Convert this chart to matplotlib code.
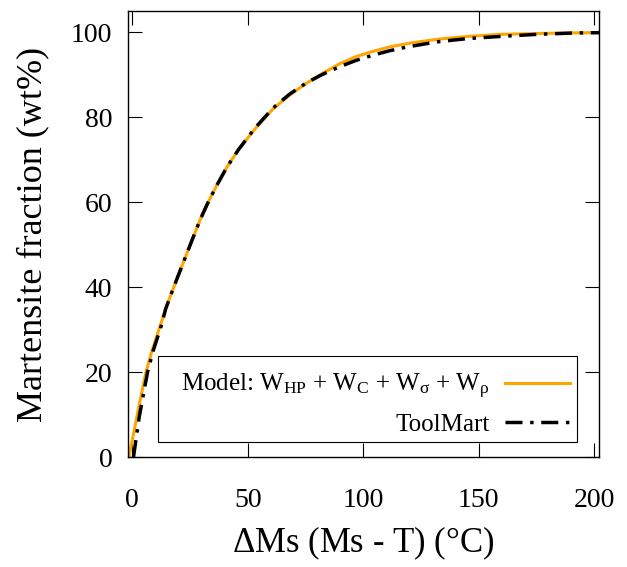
import numpy as np
from matplotlib import pyplot as plt
from matplotlib.patches import Rectangle

plt.rcParams['font.family'] = ['Liberation Serif', 'DejaVu Serif']
plt.rcParams['mathtext.fontset'] = 'custom'
plt.rcParams['mathtext.rm'] = 'Liberation Serif'
plt.rcParams['mathtext.it'] = 'Liberation Serif:italic'

# values
model_x = [-1.5, 0, 2.5, 5.9, 8.5, 11.7, 14.5, 18, 24, 29.3, 33, 36.5, 41, 46, 53, 61, 68, 75.4, 82,
           89.8, 97, 104.2, 111, 118.7, 126, 133, 145, 159, 175, 190, 202]
model_y = [0, 4, 11, 20, 25, 30.3, 35, 40.1, 48.5, 55.8, 60.2, 63.9, 68.3, 72.4, 77.2, 82.0, 85.2, 88.0, 90.2,
           92.6, 94.3, 95.5, 96.5, 97.3, 97.9, 98.4, 99.0, 99.5, 99.7, 99.85, 99.9]

tool_x = [0.5, 3, 6.6, 9, 12.2, 14.5, 18, 24, 29.3, 33, 36.5, 41, 46, 53, 61, 68, 75.4, 82,
          89.8, 97, 104.2, 111, 118.7, 126, 133, 145, 159, 175, 190, 202]
tool_y = [0, 9.5, 20, 25, 30.3, 35, 40.1, 48.5, 55.8, 60.2, 63.9, 68.3, 72.4, 77.4, 82.2, 85.4, 88.1, 90.0,
          91.9, 93.4, 94.6, 95.6, 96.5, 97.2, 97.8, 98.5, 99.0, 99.5, 99.8, 99.9]

xticks = [0, 50, 100, 150, 200]
yticks = [0, 20, 40, 60, 80, 100]

fig = plt.figure(figsize=(6.27, 5.67), dpi=100)
ax = fig.add_axes([0.2037, 0.194, 0.7516, 0.7866])

ax.plot(model_x, model_y, color='#FFA500', linewidth=2.2,
        label=r'Model: W$_{\mathrm{HP}}$ + W$_{\mathrm{C}}$ + W$_{\mathrm{\sigma}}$ + W$_{\mathrm{\rho}}$')
ax.plot(tool_x, tool_y, color='black', linewidth=2.5, linestyle=(0, (4.9, 2.2, 1.0, 2.2)),
        label='ToolMart')

ax.set_xlim(-2, 202)
ax.set_ylim(0, 105)
ax.set_xticks(xticks)
ax.set_yticks(yticks)
ax.tick_params(direction='in', length=10, width=0.8, top=True, right=True, labelsize=20)
ax.tick_params(axis='x', pad=22)
ax.tick_params(axis='y', pad=11)
for s in ax.spines.values():
    s.set_linewidth(1.0)

ax.set_xlabel(r'$\Delta$Ms (Ms - T) (°C)', fontsize=25, labelpad=9)
ax.set_ylabel('Martensite fraction (wt%)', fontsize=26, labelpad=16)

# gnuplot-style key box: wide frame, entries right aligned
box = Rectangle((0.0637, 0.034), 0.889, 0.192, transform=ax.transAxes,
                facecolor='white', edgecolor='black', linewidth=0.8, zorder=4)
ax.add_patch(box)
leg = ax.legend(loc='lower right', bbox_to_anchor=(0.9385, 0.047), fontsize=18, markerfirst=False,
                frameon=False, handlelength=2.6, handletextpad=0.6, borderpad=0,
                labelspacing=0.5, borderaxespad=0)
leg.set_zorder(5)

plt.savefig('out.png', dpi=100)
